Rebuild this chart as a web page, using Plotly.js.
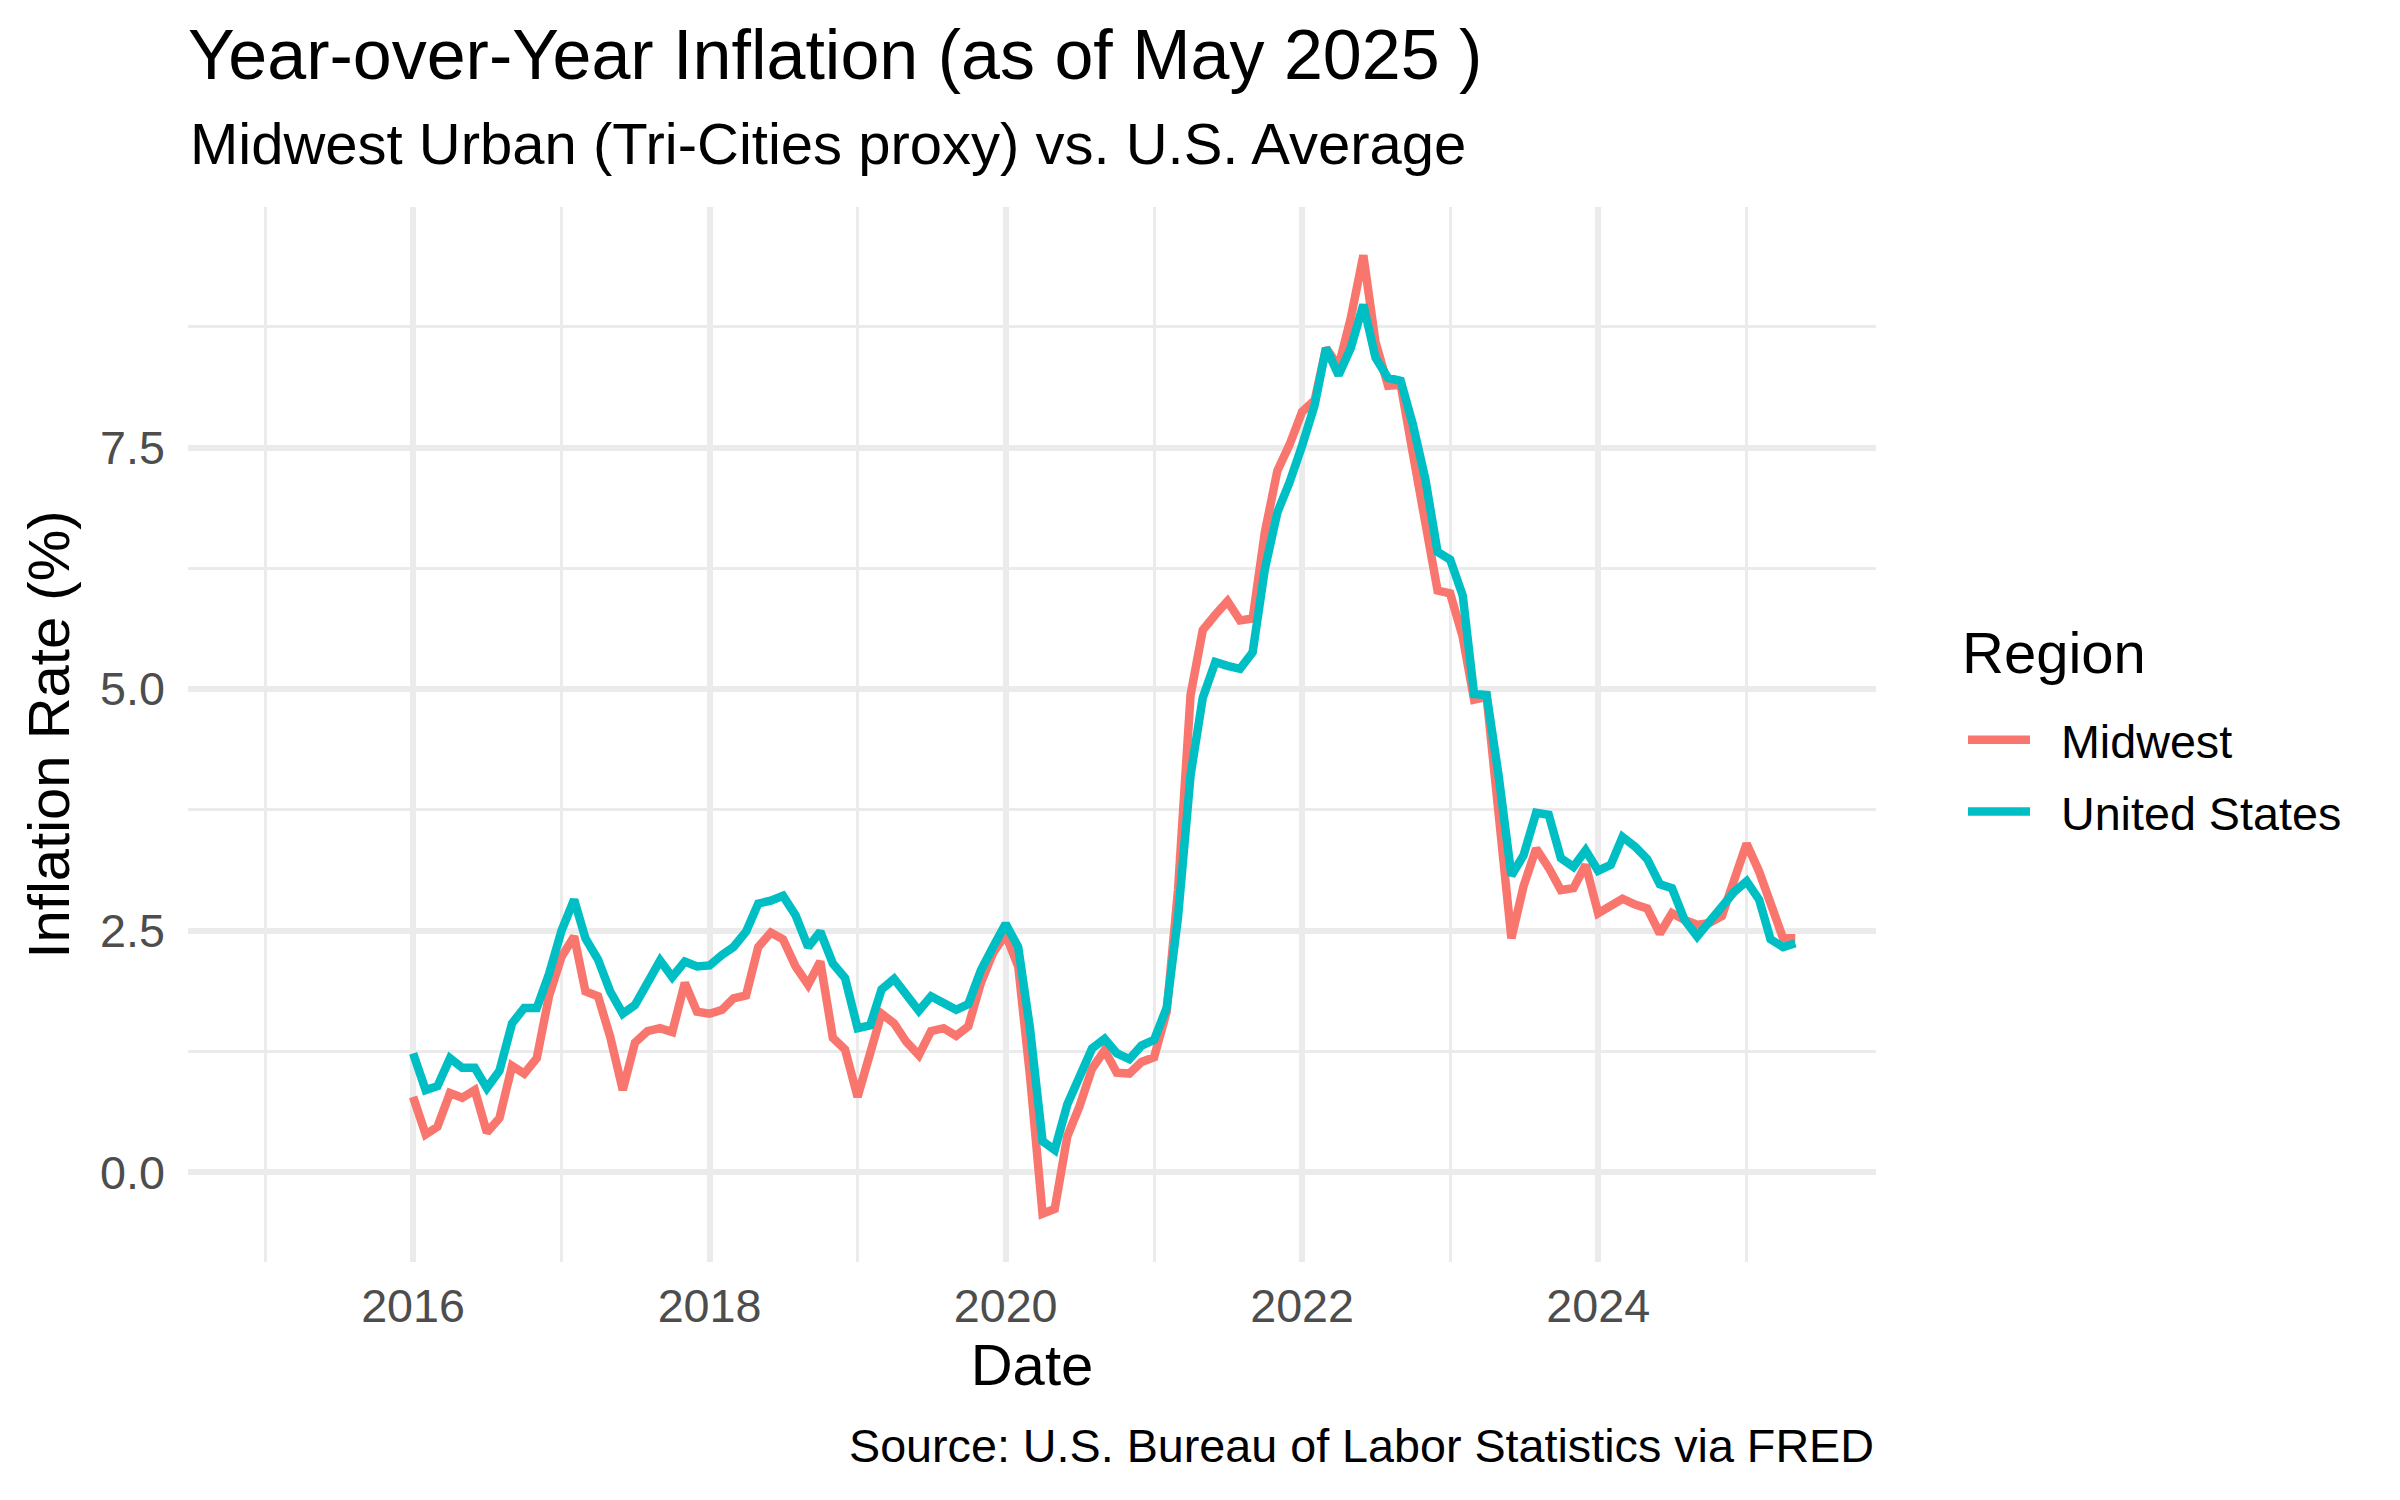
<!DOCTYPE html>
<html>
<head>
<meta charset="utf-8">
<script src="https://cdn.plot.ly/plotly-3.0.1.min.js"></script>
<style>
  html, body { margin: 0; padding: 0; background: #ffffff; }
  #chart { width: 2400px; height: 1500px; }
</style>
</head>
<body>
<div id="chart"></div>
<script>
// ---- Data (monthly, Jan 2016 - May 2025) ----
const startYear = 2016;
const startMonth = 1;
const nMonths = 113;

const midwest = [
  0.78, 0.39, 0.47, 0.82, 0.77, 0.85, 0.41, 0.56, 1.10, 1.02, 1.18, 1.82,
  2.23, 2.44, 1.87, 1.82, 1.40, 0.85, 1.34, 1.46, 1.49, 1.45, 1.96, 1.66,
  1.64, 1.68, 1.80, 1.83, 2.33, 2.48, 2.41, 2.13, 1.94, 2.18, 1.39, 1.27,
  0.78, 1.23, 1.64, 1.54, 1.35, 1.21, 1.46, 1.49, 1.41, 1.51, 1.96, 2.27,
  2.46, 2.13, 1.00, -0.43, -0.38, 0.37, 0.68, 1.07, 1.26, 1.03, 1.02, 1.14,
  1.19, 1.66, 2.92, 4.94, 5.61, 5.77, 5.91, 5.71, 5.73, 6.62, 7.26, 7.53,
  7.87, 7.99, 8.53, 8.34, 8.84, 9.49, 8.59, 8.14, 8.15, 7.44, 6.74, 6.02,
  5.99, 5.54, 4.89, 4.92, 3.69, 2.42, 2.96, 3.35, 3.15, 2.92, 2.94, 3.18,
  2.68, 2.76, 2.83, 2.77, 2.73, 2.47, 2.68, 2.61, 2.56, 2.58, 2.65, 3.02,
  3.40, 3.11, 2.75, 2.42, 2.42
];

const unitedStates = [
  1.23, 0.85, 0.89, 1.18, 1.08, 1.08, 0.87, 1.05, 1.54, 1.70, 1.70, 2.05,
  2.50, 2.82, 2.42, 2.20, 1.87, 1.64, 1.73, 1.94, 2.19, 2.02, 2.18, 2.13,
  2.14, 2.25, 2.33, 2.49, 2.78, 2.81, 2.86, 2.66, 2.33, 2.49, 2.16, 2.01,
  1.49, 1.52, 1.89, 2.00, 1.82, 1.67, 1.82, 1.74, 1.68, 1.74, 2.09, 2.33,
  2.57, 2.33, 1.49, 0.32, 0.23, 0.70, 1.00, 1.28, 1.38, 1.23, 1.17, 1.31,
  1.37, 1.70, 2.64, 4.11, 4.91, 5.28, 5.24, 5.21, 5.38, 6.24, 6.83, 7.14,
  7.52, 7.94, 8.53, 8.25, 8.53, 8.98, 8.43, 8.22, 8.19, 7.74, 7.17, 6.42,
  6.34, 5.97, 4.95, 4.94, 4.09, 3.07, 3.28, 3.72, 3.70, 3.25, 3.16, 3.33,
  3.12, 3.18, 3.47, 3.37, 3.24, 2.98, 2.94, 2.61, 2.44, 2.59, 2.75, 2.90,
  3.01, 2.82, 2.41, 2.33, 2.37
];

const regionNames = ["Midwest", "United States"];
const regionColors = ["#F8766D", "#00BFC4"];

const titleText = "Year-over-Year Inflation (as of May 2025 )";
const subtitleText = "Midwest Urban (Tri-Cities proxy) vs. U.S. Average";
const captionText = "Source: U.S. Bureau of Labor Statistics via FRED";
const xTitle = "Date";
const yTitle = "Inflation Rate (%)";
const legendTitle = "Region";

// monthly dates
const dates = [];
for (let i = 0; i < nMonths; i++) {
  const m0 = startMonth - 1 + i;
  const y = startYear + Math.floor(m0 / 12);
  const m = (m0 % 12) + 1;
  dates.push(y + "-" + String(m).padStart(2, "0") + "-01");
}

const FONT = '"Liberation Sans", Arial, Helvetica, sans-serif';

// plot area in pixels (used only for layout)
const PL = 188, PR = 1876, PT = 207, PB = 1262;
const pw = PR - PL, ph = PB - PT;
const px2x = (px) => (px - PL) / pw;
const py2y = (py) => (PB - py) / ph;

const traces = [midwest, unitedStates].map((vals, k) => ({
  type: "scatter",
  mode: "lines",
  x: dates,
  y: vals,
  name: "\u00A0\u00A0" + regionNames[k],
  legendgroup: regionNames[k],
  line: { color: regionColors[k], width: 8.5 },
  hovertemplate: "%{x|%b %Y}: %{y:.2f}%<extra>" + regionNames[k] + "</extra>"
}));

const layout = {
  width: 2400,
  height: 1500,
  paper_bgcolor: "#ffffff",
  plot_bgcolor: "#ffffff",
  margin: { l: PL, r: 2400 - PR, t: PT, b: 1500 - PB, pad: 0 },
  font: { family: FONT, color: "#000000" },
  title: {
    text: titleText,
    font: { family: FONT, size: 70, color: "#000000" },
    xref: "paper", x: 0, xanchor: "left",
    yref: "container", y: 1 - 54 / 1500, yanchor: "middle"
  },
  xaxis: {
    type: "date",
    range: ["2014-06-25", "2025-11-16"],
    tick0: "2016-01-01",
    dtick: "M24",
    tickformat: "%Y",
    showgrid: true,
    gridcolor: "#EBEBEB",
    gridwidth: 5.6,
    minor: { tick0: "2015-01-01", dtick: "M12", showgrid: true, gridcolor: "#EBEBEB", gridwidth: 2.8 },
    zeroline: false,
    showline: false,
    ticks: "",
    ticklabelstandoff: 12,
    tickfont: { family: FONT, size: 46.7, color: "#4D4D4D" },
    title: { text: xTitle, font: { family: FONT, size: 58, color: "#000000" }, standoff: 12 }
  },
  yaxis: {
    range: [-0.93, 9.99],
    tick0: 0,
    dtick: 2.5,
    tickformat: ".1f",
    showgrid: true,
    gridcolor: "#EBEBEB",
    gridwidth: 5.6,
    minor: { tick0: 0, dtick: 1.25, showgrid: true, gridcolor: "#EBEBEB", gridwidth: 2.8 },
    zeroline: false,
    showline: false,
    ticks: "",
    ticklabelstandoff: 22,
    tickfont: { family: FONT, size: 46.7, color: "#4D4D4D" },
    title: { text: yTitle, font: { family: FONT, size: 58, color: "#000000" }, standoff: 11 }
  },
  shapes: [{
    type: "line",
    xref: "paper", x0: 0, x1: 1,
    yref: "y", y0: 0, y1: 0,
    line: { color: "#B3B3B3", width: 4.4, dash: "18px,17px" },
    layer: "between"
  }],
  annotations: [
    {
      text: subtitleText, showarrow: false,
      xref: "paper", x: 0, xanchor: "left",
      yref: "paper", y: py2y(144), yanchor: "middle",
      font: { family: FONT, size: 58, color: "#000000" }
    },
    {
      text: captionText, showarrow: false,
      xref: "paper", x: 1, xanchor: "right",
      yref: "paper", y: py2y(1446), yanchor: "middle",
      font: { family: FONT, size: 46.7, color: "#000000" }
    },
    {
      text: legendTitle, showarrow: false,
      xref: "paper", x: px2x(1960), xanchor: "left",
      yref: "paper", y: py2y(652), yanchor: "middle",
      font: { family: FONT, size: 58, color: "#000000" }
    }
  ],
  showlegend: true,
  legend: {
    x: px2x(1963), xanchor: "left",
    y: py2y(703), yanchor: "top",
    bgcolor: "rgba(0,0,0,0)",
    font: { family: FONT, size: 46.7, color: "#000000" },
    tracegroupgap: 8,
    itemwidth: 62,
    traceorder: "grouped"
  }
};

Plotly.newPlot("chart", traces, layout, { displayModeBar: false, responsive: false });
</script>
</body>
</html>
